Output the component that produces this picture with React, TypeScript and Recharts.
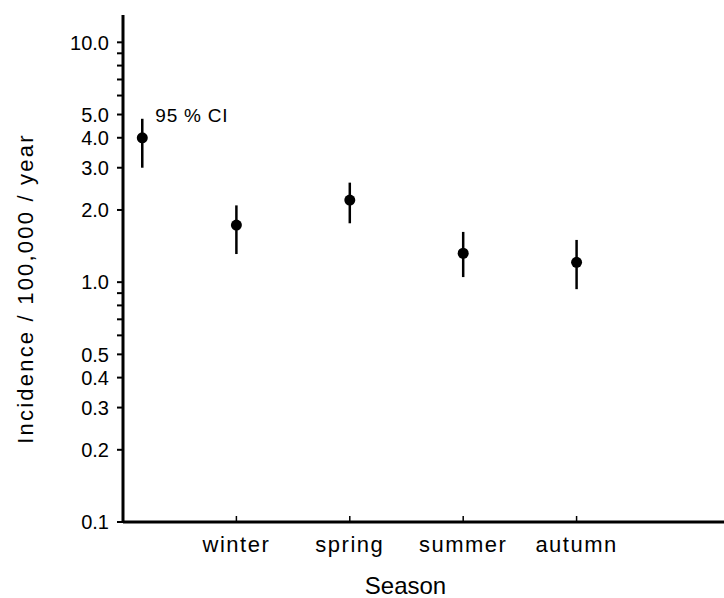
import React from 'react';
import { ScatterChart, Scatter, XAxis, YAxis, ErrorBar, ReferenceDot } from 'recharts';

// seasonal incidence with 95% CI, first point is the whole-year value (no label)
const seasons = ['', 'winter', 'spring', 'summer', 'autumn'];
const xPos = [0.17, 1, 2, 3, 4];
const incidence = [4.0, 1.73, 2.2, 1.32, 1.21];
const ciLow = [3.0, 1.31, 1.76, 1.05, 0.935];
const ciHigh = [4.8, 2.09, 2.6, 1.62, 1.5];

const yTicks = [0.1, 0.2, 0.3, 0.4, 0.5, 0.6, 0.7, 0.8, 0.9, 1, 2, 3, 4, 5, 6, 7, 8, 9, 10];
const yLabeled = [0.1, 0.2, 0.3, 0.4, 0.5, 1, 2, 3, 4, 5, 10];
const xTicks = [1, 2, 3, 4];

const data = seasons.map((s, i) => ({
  name: s,
  x: xPos[i],
  y: incidence[i],
  err: [incidence[i] - ciLow[i], ciHigh[i] - incidence[i]],
}));

const fmtY = (v: number) => (v >= 1 ? v.toFixed(1) : String(v));

const YTick = (props: any) => {
  const { x, y, payload } = props;
  const v = payload.value;
  return (
    <g>
      <line x1={x - 6} x2={x} y1={y} y2={y} stroke="#000" strokeWidth={2} />
      {yLabeled.includes(v) && (
        <text x={x - 14} y={y} dy="0.36em" textAnchor="end" fontSize={20} fill="#000">
          {fmtY(v)}
        </text>
      )}
    </g>
  );
};

const XTick = (props: any) => {
  const { x, y, payload } = props;
  return (
    <g>
      <line x1={x} x2={x} y1={y} y2={y - 6} stroke="#000" strokeWidth={1.5} />
      <text x={x} y={y + 30} textAnchor="middle" fontSize={22} letterSpacing={1.5} fill="#000">
        {seasons[payload.value]}
      </text>
    </g>
  );
};

const Dot = (props: any) => <circle cx={props.cx} cy={props.cy} r={5.5} fill="#000" />;

export default function App() {
  return (
    <div style={{ position: 'absolute', left: 0, top: 0, fontFamily: '"Liberation Sans", Arial, sans-serif' }}>
      <ScatterChart width={724} height={598} margin={{ top: 15, right: 0, bottom: 0, left: 0 }}>
        <XAxis
          dataKey="x"
          type="number"
          domain={[0, 5.3]}
          ticks={xTicks}
          tick={<XTick />}
          tickSize={0}
          tickMargin={0}
          tickLine={false}
          axisLine={{ stroke: '#000', strokeWidth: 3 }}
          height={76}
          allowDataOverflow
          label={{
            content: ({ viewBox }: any) => (
              <text
                x={viewBox.x + viewBox.width / 2 - 18}
                y={viewBox.y + 72}
                textAnchor="middle"
                fontSize={24}
                fill="#000"
              >
                Season
              </text>
            ),
          }}
        />
        <YAxis
          dataKey="y"
          type="number"
          scale="log"
          domain={[0.1, 13]}
          ticks={yTicks}
          tick={<YTick />}
          tickSize={0}
          tickMargin={0}
          tickLine={false}
          axisLine={{ stroke: '#000', strokeWidth: 3 }}
          width={123}
          allowDataOverflow
          interval={0}
          label={{
            content: ({ viewBox }: any) => (
              <text
                transform={`translate(${viewBox.x + 33}, ${viewBox.y + viewBox.height / 2 + 20}) rotate(-90)`}
                textAnchor="middle"
                fontSize={22}
                letterSpacing={2.2}
                fill="#000"
              >
                Incidence / 100,000 / year
              </text>
            ),
          }}
        />
        <Scatter data={data} shape={<Dot />} isAnimationActive={false}>
          <ErrorBar dataKey="err" direction="y" width={0} stroke="#000" strokeWidth={2.5} isAnimationActive={false} />
        </Scatter>
        <ReferenceDot
          x={xPos[0]}
          y={incidence[0]}
          r={0}
          stroke="none"
          fill="none"
          label={{
            content: ({ viewBox }: any) => (
              <text x={viewBox.x + 13} y={viewBox.y - 16} fontSize={19} letterSpacing={0.8} fill="#000">
                95 % CI
              </text>
            ),
          }}
        />
      </ScatterChart>
    </div>
  );
}
